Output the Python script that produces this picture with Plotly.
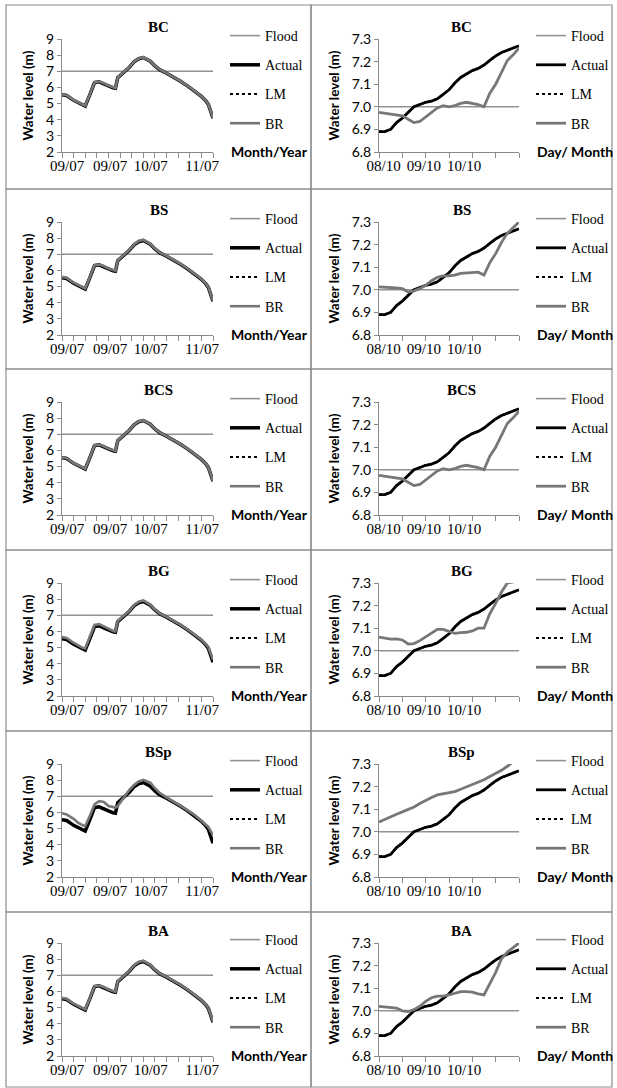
import plotly.graph_objects as go

W, H = 617, 1088

MODELS = ["BC", "BS", "BCS", "BG", "BSp", "BA"]
FLOOD_LEVEL = 7.0

# ---- Season hydrograph (left column): day index, one axis tick every 5 days ----
SEASON_DAY = [0, 2, 5, 7, 9, 10, 12, 14, 16, 18, 20, 22, 23, 24, 27, 29, 31, 33, 35, 38,
              40, 42, 45, 48, 51, 54, 57, 60, 62, 63, 65]
SEASON_ACTUAL = [5.55, 5.5, 5.2, 5.05, 4.88, 4.85, 5.55, 6.3, 6.35, 6.25, 6.1, 5.97, 5.95, 6.6, 6.97,
                 7.25, 7.58, 7.78, 7.85, 7.62, 7.33, 7.1, 6.88, 6.65, 6.38, 6.1, 5.8, 5.45, 5.15, 4.95, 4.1]
SEASON_LM = [5.55, 5.5, 5.2, 5.05, 4.88, 4.85, 5.55, 6.3, 6.35, 6.25, 6.1, 5.97, 5.95, 6.6, 6.97,
             7.25, 7.58, 7.78, 7.85, 7.62, 7.33, 7.1, 6.88, 6.65, 6.38, 6.1, 5.8, 5.45, 5.15, 4.95, 4.1]
SEASON_BR_BC = [5.57, 5.52, 5.22, 5.06, 4.9, 4.87, 5.57, 6.32, 6.36, 6.26, 6.11, 5.98, 5.96, 6.62, 6.98,
                7.26, 7.6, 7.8, 7.87, 7.63, 7.34, 7.11, 6.89, 6.66, 6.39, 6.11, 5.81, 5.46, 5.16, 4.96, 4.12]
SEASON_BR_BS = [5.6, 5.54, 5.24, 5.08, 4.92, 4.88, 5.58, 6.33, 6.37, 6.27, 6.12, 5.99, 5.97, 6.63, 6.99,
                7.27, 7.61, 7.82, 7.9, 7.65, 7.35, 7.12, 6.9, 6.67, 6.4, 6.12, 5.82, 5.47, 5.17, 4.97, 4.14]
SEASON_BR_BCS = [5.57, 5.52, 5.22, 5.06, 4.9, 4.87, 5.57, 6.32, 6.36, 6.26, 6.11, 5.98, 5.96, 6.62, 6.98,
                 7.26, 7.6, 7.8, 7.87, 7.63, 7.34, 7.11, 6.89, 6.66, 6.39, 6.11, 5.81, 5.46, 5.16, 4.96, 4.12]
SEASON_BR_BG = [5.65, 5.6, 5.3, 5.12, 4.97, 4.95, 5.7, 6.4, 6.45, 6.33, 6.17, 6.03, 6.0, 6.65, 7.0,
                7.28, 7.63, 7.84, 7.92, 7.66, 7.36, 7.12, 6.9, 6.67, 6.4, 6.12, 5.82, 5.48, 5.2, 5.02, 4.25]
SEASON_BR_BSP = [5.95, 5.88, 5.6, 5.35, 5.2, 5.15, 5.8, 6.5, 6.7, 6.65, 6.4, 6.32, 6.3, 6.4, 7.0,
                 7.4, 7.7, 7.92, 8.02, 7.85, 7.5, 7.22, 6.93, 6.68, 6.42, 6.14, 5.85, 5.5, 5.25, 5.1, 4.6]
SEASON_BR_BA = [5.6, 5.54, 5.24, 5.08, 4.92, 4.88, 5.58, 6.33, 6.37, 6.27, 6.12, 5.99, 5.97, 6.63, 6.99,
                7.27, 7.61, 7.82, 7.9, 7.65, 7.35, 7.12, 6.9, 6.67, 6.4, 6.12, 5.82, 5.47, 5.17, 4.97, 4.14]
SEASON_TICK_POS = [2.2, 20.7, 38.2, 60.3]
SEASON_TICK_TEXT = ["09/07", "09/07", "10/07", "11/07"]

# ---- Flood event (right column): sample index, one axis tick every 4 samples ----
EVENT_STEP = [0, 1, 2, 3, 4, 5, 6, 7, 8, 9, 10, 11, 12, 13, 14, 15, 16, 17, 18, 19, 20, 21, 22, 23, 24]
EVENT_ACTUAL = [6.89, 6.89, 6.9, 6.93, 6.95, 6.975, 7.0, 7.01, 7.02, 7.025, 7.035, 7.055, 7.075,
                7.105, 7.13, 7.145, 7.16, 7.17, 7.185, 7.205, 7.225, 7.24, 7.25, 7.26, 7.27]
EVENT_LM = [6.89, 6.89, 6.9, 6.93, 6.95, 6.975, 7.0, 7.01, 7.02, 7.025, 7.035, 7.055, 7.075,
            7.105, 7.13, 7.145, 7.16, 7.17, 7.185, 7.205, 7.225, 7.24, 7.25, 7.26, 7.27]
EVENT_BR_BC = [6.975, 6.972, 6.968, 6.965, 6.96, 6.945, 6.93, 6.935, 6.955, 6.975, 6.995, 7.005, 7.0,
               7.005, 7.015, 7.02, 7.015, 7.01, 7.0, 7.06, 7.1, 7.15, 7.205, 7.23, 7.26]
EVENT_BR_BS = [7.013, 7.012, 7.008, 7.008, 7.005, 6.99, 6.995, 7.005, 7.02, 7.04, 7.055, 7.062, 7.062,
               7.065, 7.073, 7.075, 7.078, 7.078, 7.065, 7.12, 7.16, 7.21, 7.25, 7.275, 7.3]
EVENT_BR_BCS = [6.975, 6.972, 6.968, 6.965, 6.96, 6.945, 6.93, 6.935, 6.955, 6.975, 6.995, 7.005, 7.0,
                7.005, 7.015, 7.02, 7.015, 7.01, 7.0, 7.06, 7.1, 7.15, 7.205, 7.23, 7.26]
EVENT_BR_BG = [7.061, 7.058, 7.052, 7.053, 7.048, 7.03, 7.032, 7.045, 7.062, 7.08, 7.095, 7.095, 7.085,
               7.077, 7.08, 7.082, 7.088, 7.1, 7.1, 7.165, 7.21, 7.26, 7.3, 7.305, 7.34]
EVENT_BR_BSP = [7.043, 7.055, 7.068, 7.078, 7.088, 7.098, 7.11, 7.125, 7.14, 7.152, 7.163, 7.168, 7.17,
                7.178, 7.188, 7.198, 7.207, 7.217, 7.23, 7.245, 7.258, 7.272, 7.29, 7.31, 7.33]
EVENT_BR_BA = [7.02, 7.018, 7.015, 7.012, 7.0, 6.997, 7.005, 7.02, 7.042, 7.058, 7.065, 7.065, 7.07,
               7.078, 7.085, 7.085, 7.083, 7.075, 7.07, 7.12, 7.17, 7.23, 7.26, 7.28, 7.3]
EVENT_TICK_POS = [0.8, 7.7, 14.6]
EVENT_TICK_TEXT = ["08/10", "09/10", "10/10"]

SEASON_BR = [SEASON_BR_BC, SEASON_BR_BS, SEASON_BR_BCS, SEASON_BR_BG, SEASON_BR_BSP, SEASON_BR_BA]
EVENT_BR = [EVENT_BR_BC, EVENT_BR_BS, EVENT_BR_BCS, EVENT_BR_BG, EVENT_BR_BSP, EVENT_BR_BA]

# ---- styling ----
C_FLOOD = "#929292"
C_BR = "#777777"
C_AXIS = "#8a8a8a"
C_BORDER = "#8c8c8c"
SERIF = "Liberation Serif"
SANS = "Lato"

COL_EDGES = [6, 311, 612]
ROW_EDGES = [5, 189, 369, 550, 731, 912, 1087]
PLOT_X = [(62, 213), (379, 519)]
YTITLE_GAP = [35, 46]
PLOT_TOP = [39, 222, 402, 583, 764, 943]
PLOT_H = 113


def px(x):
    return x / W


def py(y):
    return 1 - y / H


fig = go.Figure()
annotations = []
shapes = []
layout = {}

panel = 0
for row, model in enumerate(MODELS):
    for col in range(2):
        panel += 1
        xa = "x" if panel == 1 else f"x{panel}"
        ya = "y" if panel == 1 else f"y{panel}"
        leg = "legend" if panel == 1 else f"legend{panel}"
        if col == 0:
            xs, actual, lm, br = SEASON_DAY, SEASON_ACTUAL, SEASON_LM, SEASON_BR[row]
            xr, yr, dtick_y, minor_dt = [0, 65], [2, 9], 1, 5
            tpos, ttext, ttl, yfmt = SEASON_TICK_POS, SEASON_TICK_TEXT, "Month/Year", "d"
            w_act, w_br = 3.5, 2.6
        else:
            xs, actual, lm, br = EVENT_STEP, EVENT_ACTUAL, EVENT_LM, EVENT_BR[row]
            xr, yr, dtick_y, minor_dt = [0, 24], [6.8, 7.3], 0.1, 4
            tpos, ttext, ttl, yfmt = EVENT_TICK_POS, EVENT_TICK_TEXT, "Day/ Month", ".1f"
            w_act, w_br = 2.8, 2.8

        series = [
            ("Flood", [FLOOD_LEVEL] * len(xs), dict(color=C_FLOOD, width=1.6)),
            ("Actual", actual, dict(color="black", width=w_act)),
            ("LM", lm, dict(color="black", width=2.2, dash="dot")),
            ("BR", br, dict(color=C_BR, width=w_br)),
        ]
        for name, ys, line in series:
            fig.add_trace(go.Scatter(
                x=xs, y=ys, name=name, mode="lines", line=line,
                xaxis=xa, yaxis=ya, legend=leg, legendgroup=f"{panel}-{name}",
                hoverinfo="skip",
            ))

        x0, x1 = PLOT_X[col]
        top = PLOT_TOP[row]
        bot = top + PLOT_H
        xkey = "xaxis" if panel == 1 else f"xaxis{panel}"
        ykey = "yaxis" if panel == 1 else f"yaxis{panel}"
        layout[xkey] = dict(
            domain=[px(x0), px(x1)], anchor=ya, range=xr,
            showgrid=False, zeroline=False, showline=True, linecolor=C_AXIS, linewidth=1,
            tickmode="array", tickvals=tpos, ticktext=ttext, ticks="",
            tickfont=dict(family=SERIF, size=15, color="black"),
            minor=dict(ticks="outside", ticklen=5, tickcolor=C_AXIS, tickwidth=1,
                       tick0=0, dtick=minor_dt, showgrid=False),
            fixedrange=True,
        )
        layout[ykey] = dict(
            domain=[py(bot), py(top)], anchor=xa, range=yr,
            showgrid=False, zeroline=False, showline=True, linecolor=C_AXIS, linewidth=1,
            tick0=yr[0], dtick=dtick_y, tickformat=yfmt,
            ticks="outside", ticklen=4, tickcolor=C_AXIS,
            tickfont=dict(family=SANS, size=14, color="black"),
            fixedrange=True,
        )

        cx0, cx1 = COL_EDGES[col], COL_EDGES[col + 1]
        layout[leg] = dict(
            x=px(x1 + 12), y=py(top - 19), xanchor="left", yanchor="top",
            bgcolor="rgba(0,0,0,0)", borderwidth=0,
            font=dict(family=SERIF, size=14, color="black"),
            tracegroupgap=8, itemwidth=30,
        )

        # panel title
        annotations.append(dict(
            x=px((cx0 + cx1) / 2), y=py(top - 12), xref="paper", yref="paper",
            text=f"<b>{model}</b>", showarrow=False, xanchor="center", yanchor="middle",
            font=dict(family=SERIF, size=15, color="black"),
        ))
        # vertical axis title
        annotations.append(dict(
            x=px(x0 - YTITLE_GAP[col]), y=py((top + bot) / 2), xref="paper", yref="paper",
            text="<b>Water level (m)</b>", textangle=-90, showarrow=False,
            xanchor="center", yanchor="middle",
            font=dict(family=SANS, size=13.5, color="black"),
        ))
        # time-unit caption beside the axis
        annotations.append(dict(
            x=px(x1 + 16), y=py(bot - 1), xref="paper", yref="paper",
            text=f"<b>{ttl}</b>", showarrow=False, xanchor="left", yanchor="middle",
            font=dict(family=SANS, size=14, color="black"),
        ))
        # panel frame
        shapes.append(dict(
            type="rect", xref="paper", yref="paper",
            x0=px(cx0), x1=px(cx1), y0=py(ROW_EDGES[row + 1]), y1=py(ROW_EDGES[row]),
            line=dict(color=C_BORDER, width=1.2), fillcolor="rgba(0,0,0,0)", layer="below",
        ))

fig.update_layout(
    width=W, height=H, margin=dict(l=0, r=0, t=0, b=0, autoexpand=False),
    paper_bgcolor="white", plot_bgcolor="white",
    font=dict(family=SERIF, size=14, color="black"),
    showlegend=True, annotations=annotations, shapes=shapes,
    **layout,
)

fig.write_html("out.html")
